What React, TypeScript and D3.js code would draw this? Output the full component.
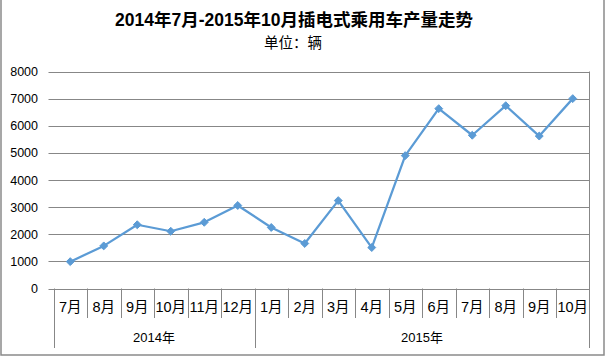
import React from "react";
import * as d3 from "d3";

const months = ["7月", "8月", "9月", "10月", "11月", "12月", "1月", "2月", "3月", "4月", "5月", "6月", "7月", "8月", "9月", "10月"];
const values = [990, 1570, 2350, 2110, 2440, 3060, 2250, 1660, 3240, 1510, 4900, 6630, 5650, 6740, 5620, 7000];
const years = ["2014年", "2015年"];
const yearSpans = [6, 10];
const yTicks = [0, 1000, 2000, 3000, 4000, 5000, 6000, 7000, 8000];
const title = "2014年7月-2015年10月插电式乘用车产量走势";
const subtitle = "单位：辆";

const W = 606;
const H = 357;
const left = 53.5;
const right = 589.5;
const top = 71.5;
const bottom = 288.5;

export default function App() {
  const x = d3.scaleBand<number>().domain(d3.range(months.length)).range([left, right]).padding(0);
  const y = d3.scaleLinear().domain([0, 8000]).range([bottom, top]);
  const line = d3
    .line<number>()
    .x((_, i) => (x(i) as number) + x.bandwidth() / 2)
    .y((d) => y(d));
  const diamond = d3.symbol().type(d3.symbolDiamond2).size(40)() as string;
  const font = "'Liberation Sans', 'Noto Sans CJK SC', sans-serif";
  const grid = "#878787";

  let acc = 0;
  const yearBounds = yearSpans.map((s) => {
    const start = acc;
    acc += s;
    return [start, acc];
  });

  return (
    <svg width={W} height={H} style={{ position: "absolute", left: 0, top: 0, background: "#fff" }} fontFamily={font}>
      <rect x={1} y={-1} width={603} height={356} fill="#fff" stroke="#8a8a8a" strokeWidth={1.5} />
      <text x={294} y={26} textAnchor="middle" fontSize={17.5} fontWeight="bold" fill="#000">
        {title}
      </text>
      <text x={293} y={48} textAnchor="middle" fontSize={14.5} fill="#000">
        {subtitle}
      </text>
      {yTicks.map((t) => (
        <g key={t}>
          <line x1={left - 5} x2={right} y1={Math.round(y(t)) + 0.5} y2={Math.round(y(t)) + 0.5} stroke={grid} strokeWidth={1} />
          <text x={38} y={y(t) + 4.5} textAnchor="end" fontSize={12.5} fill="#000">
            {t}
          </text>
        </g>
      ))}
      {months.map((m, i) => (
        <g key={i}>
          <line x1={Math.round(x(i) as number) + 0.5} x2={Math.round(x(i) as number) + 0.5} y1={bottom} y2={i === 0 || i === 6 ? 348 : 318} stroke={grid} />
          <text x={(x(i) as number) + x.bandwidth() / 2} y={311.5} textAnchor="middle" fontSize={14.5} fill="#000">
            {m}
          </text>
        </g>
      ))}
      <line x1={right} x2={right} y1={top} y2={348} stroke={grid} />
      {yearBounds.map(([s, e], k) => (
        <text key={k} x={((x(s) as number) + (e < months.length ? (x(e) as number) : right)) / 2} y={342} textAnchor="middle" fontSize={13} fill="#000">
          {years[k]}
        </text>
      ))}
      <path d={line(values) as string} fill="none" stroke="#5B9BD5" strokeWidth={2.25} strokeLinejoin="round" />
      {values.map((v, i) => (
        <path key={i} d={diamond} transform={`translate(${(x(i) as number) + x.bandwidth() / 2},${y(v)})`} fill="#5B9BD5" stroke="#5B9BD5" strokeWidth={1} />
      ))}
    </svg>
  );
}
